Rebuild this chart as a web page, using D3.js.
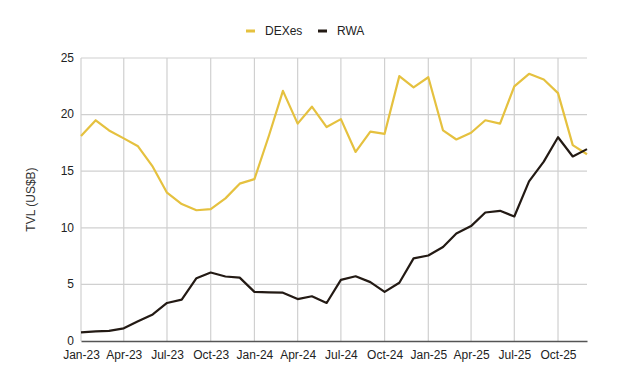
<!DOCTYPE html>
<html>
<head>
<meta charset="utf-8">
<script src="https://cdn.jsdelivr.net/npm/d3@7"></script>
<style>
  html, body { margin: 0; padding: 0; background: #fff; }
  #chart { width: 632px; height: 374px; }
  text { font-family: "Liberation Sans", Arial, sans-serif; }
</style>
</head>
<body>
<div id="chart"></div>
<script>
// monthly TVL, Jan-23 .. Dec-25 (US$ bn)
const months = [
  '2023-01','2023-02','2023-03','2023-04','2023-05','2023-06','2023-07','2023-08','2023-09','2023-10','2023-11','2023-12',
  '2024-01','2024-02','2024-03','2024-04','2024-05','2024-06','2024-07','2024-08','2024-09','2024-10','2024-11','2024-12',
  '2025-01','2025-02','2025-03','2025-04','2025-05','2025-06','2025-07','2025-08','2025-09','2025-10','2025-11','2025-12'
];
const dexes = [
  18.1, 19.5, 18.6, 17.9, 17.2, 15.4, 13.1, 12.1, 11.55, 11.65, 12.6, 13.9,
  14.3, 18.2, 22.1, 19.2, 20.7, 18.9, 19.6, 16.7, 18.5, 18.3, 23.4, 22.4,
  23.3, 18.6, 17.8, 18.4, 19.5, 19.2, 22.5, 23.6, 23.1, 21.9, 17.3, 16.5
];
const rwa = [
  0.77, 0.85, 0.9, 1.12, 1.74, 2.35, 3.36, 3.66, 5.55, 6.05, 5.7, 5.6,
  4.34, 4.3, 4.27, 3.7, 3.95, 3.36, 5.4, 5.72, 5.2, 4.34, 5.15, 7.3,
  7.55, 8.3, 9.5, 10.15, 11.35, 11.5, 11.0, 14.1, 15.85, 18.0, 16.3, 16.95
];
const yTicks = [0, 5, 10, 15, 20, 25];
const seriesNames = ['DEXes', 'RWA'];
const seriesColors = ['#e5c13f', '#231a14'];

const width = 632, height = 374;
const margin = { left: 81, right: 45, top: 58, bottom: 33 };

const parseMonth = d3.timeParse('%Y-%m');
const dates = months.map(parseMonth);

const svg = d3.select('#chart').append('svg')
  .attr('width', width)
  .attr('height', height);

const x = d3.scaleTime()
  .domain(d3.extent(dates))
  .range([margin.left, width - margin.right]);

const y = d3.scaleLinear()
  .domain([0, 25])
  .range([height - margin.bottom, margin.top]);

const xTicks = dates.filter(d => d.getMonth() % 3 === 0);

// gridlines
svg.append('g')
  .selectAll('line')
  .data(yTicks.filter(t => t > 0))
  .join('line')
  .attr('x1', margin.left)
  .attr('x2', width - margin.right)
  .attr('y1', d => y(d))
  .attr('y2', d => y(d))
  .attr('stroke', '#d0d0d0')
  .attr('stroke-width', 1.2);

svg.append('g')
  .selectAll('line')
  .data(xTicks)
  .join('line')
  .attr('x1', d => x(d))
  .attr('x2', d => x(d))
  .attr('y1', y(25))
  .attr('y2', y(0))
  .attr('stroke', '#d0d0d0')
  .attr('stroke-width', 1.2);

// axes
const xAxis = d3.axisBottom(x)
  .tickValues(xTicks)
  .tickFormat(d3.timeFormat('%b-%y'))
  .tickSize(0)
  .tickPadding(9);

svg.append('g')
  .attr('transform', `translate(0, ${y(0)})`)
  .call(xAxis)
  .call(g => g.select('.domain').attr('stroke', '#555').attr('stroke-width', 1.3))
  .call(g => g.selectAll('text').attr('fill', '#222').style('font-size', '12px'));

const yAxis = d3.axisLeft(y)
  .tickValues(yTicks)
  .tickSize(0)
  .tickPadding(7);

svg.append('g')
  .attr('transform', `translate(${margin.left}, 0)`)
  .call(yAxis)
  .call(g => g.select('.domain').remove())
  .call(g => g.selectAll('text').attr('fill', '#222').attr('dy', '0.28em').style('font-size', '12px'));

svg.append('text')
  .attr('transform', `translate(31, ${(y(0) + y(25)) / 2}) rotate(-90)`)
  .attr('text-anchor', 'middle')
  .attr('dy', '0.35em')
  .attr('fill', '#333')
  .style('font-size', '12px')
  .text('TVL (US$B)');

// lines
const line = d3.line()
  .x((d, i) => x(dates[i]))
  .y(d => y(d));

[dexes, rwa].forEach((values, i) => {
  svg.append('path')
    .datum(values)
    .attr('fill', 'none')
    .attr('stroke', seriesColors[i])
    .attr('stroke-width', 2.2)
    .attr('stroke-linejoin', 'round')
    .attr('d', line);
});

// legend
const legend = svg.append('g')
  .attr('transform', 'translate(246, 31)');

const legendX = [0, 72];

legend.selectAll('g')
  .data(seriesNames)
  .join('g')
  .attr('transform', (d, i) => `translate(${legendX[i]}, 0)`)
  .each(function(d, i) {
    d3.select(this).append('rect')
      .attr('x', 0)
      .attr('y', -1.5)
      .attr('width', 9)
      .attr('height', 3)
      .attr('fill', seriesColors[i]);
    d3.select(this).append('text')
      .attr('x', 19)
      .attr('dy', '0.35em')
      .attr('fill', '#222')
      .style('font-size', '12px')
      .text(d);
  });
</script>
</body>
</html>
